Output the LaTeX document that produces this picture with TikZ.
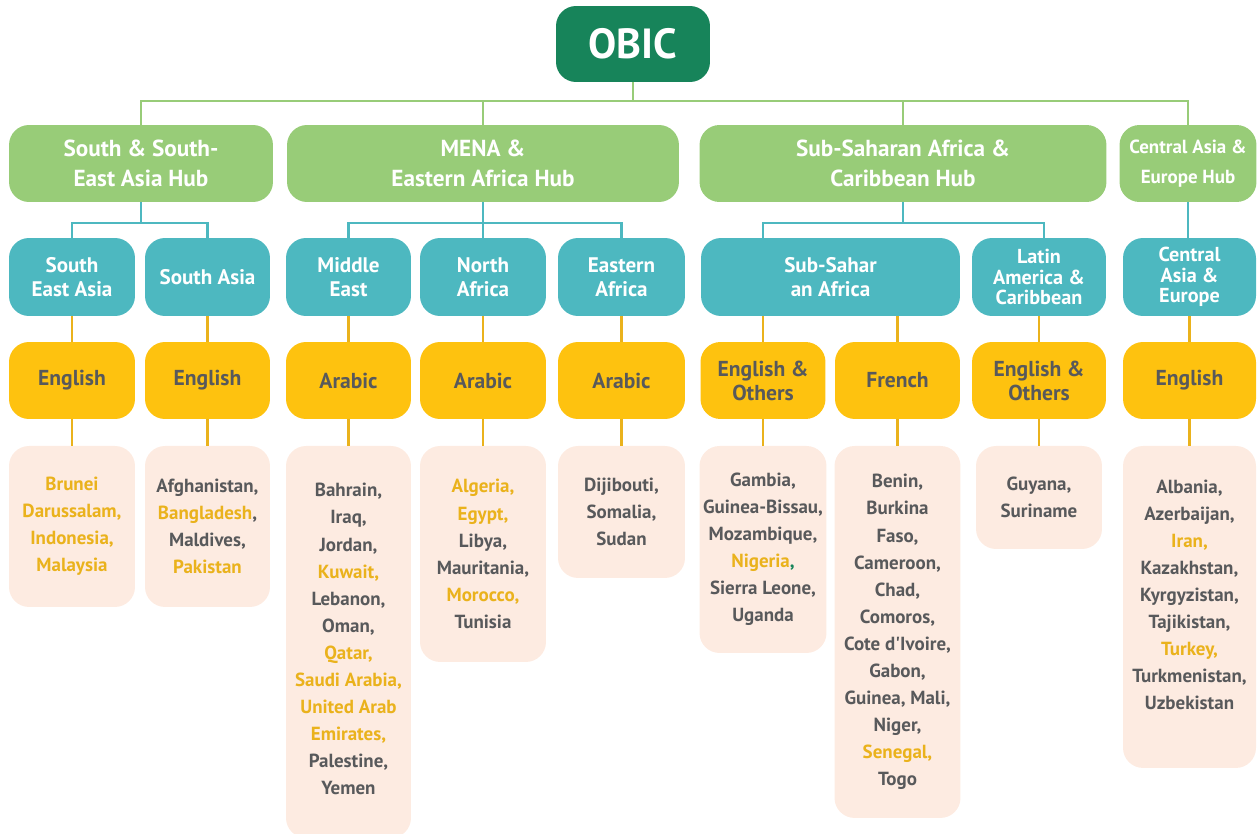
\documentclass[tikz,border=0pt]{standalone}
\usepackage{fontspec}
\setmainfont{PT Sans}
\usetikzlibrary{positioning}
\definecolor{obicgreen}{HTML}{17845A}
\definecolor{hubgreen}{HTML}{98CC78}
\definecolor{regteal}{HTML}{4DB8C0}
\definecolor{langyel}{HTML}{FEC20F}
\definecolor{listpeach}{HTML}{FDEBE1}
\definecolor{txtgrey}{HTML}{58595B}
\definecolor{hlyel}{HTML}{EAB21C}
\newcommand\hl[1]{\textcolor{hlyel}{#1}}
\tikzset{
  box/.style={rectangle, rounded corners=0.4cm, inner sep=0pt, outer sep=0pt, align=center, font=\bfseries},
  obicbox/.style={box, fill=obicgreen, text=white, minimum width=3.08cm, minimum height=1.52cm, font=\bfseries\fontsize{24}{28}\selectfont},
  hubbox/.style={box, fill=hubgreen, text=white, minimum height=1.54cm, font=\bfseries\fontsize{13.2}{17}\selectfont},
  regbox/.style={box, fill=regteal, text=white, minimum height=1.56cm, font=\bfseries\fontsize{12}{13.6}\selectfont},
  langbox/.style={box, fill=langyel, text=txtgrey, minimum height=1.54cm, font=\bfseries\fontsize{12.3}{13.6}\selectfont},
  listbox/.style={box, fill=listpeach, text=txtgrey, anchor=north, font=\bfseries\fontsize{10.8}{15.4}\selectfont},
  gline/.style={hubgreen, line width=1.6pt},
  tline/.style={regteal, line width=1.6pt},
  yline/.style={hlyel, line width=1.6pt}
}
\begin{document}
\begin{tikzpicture}[x=0.02cm, y=-0.02cm]
	\useasboundingbox (0,0) rectangle (1258,834);
	\node[obicbox] (obic) at (633,44) {OBIC};

	\node[hubbox, minimum width=5.28cm] (hub1) at (141,163.5) {South \& South-\\East Asia Hub};
	\node[hubbox, minimum width=7.84cm] (hub2) at (483,163.5) {MENA \&\\Eastern Africa Hub};
	\node[hubbox, minimum width=8.14cm] (hub3) at (903,163.5) {Sub-Saharan Africa \&\\Caribbean Hub};
	\node[hubbox, minimum width=2.74cm, font=\bfseries\fontsize{10.8}{17}\selectfont] (hub4) at (1188,163.5) {Central Asia \&\\Europe Hub};

	\node[regbox, minimum width=2.52cm] (reg1) at (72,277) {South\\East Asia};
	\node[regbox, minimum width=2.50cm] (reg2) at (207.5,277) {South Asia};
	\node[regbox, minimum width=2.50cm] (reg3) at (348.5,277) {Middle\\East};
	\node[regbox, minimum width=2.52cm] (reg4) at (483,277) {North\\Africa};
	\node[regbox, minimum width=2.54cm] (reg5) at (621.5,277) {Eastern\\Africa};
	\node[regbox, minimum width=5.18cm] (reg6) at (830.5,277) {Sub-Sahar\\an Africa};
	\node[regbox, minimum width=2.68cm, font=\bfseries\fontsize{11.5}{11.5}\selectfont] (reg7) at (1039,277) {Latin\\America \&\\Caribbean};
	\node[regbox, minimum width=2.66cm, font=\bfseries\fontsize{11.5}{11.5}\selectfont] (reg8) at (1189.5,277) {Central\\Asia \&\\Europe};

	\node[langbox, minimum width=2.52cm] (lang1) at (72,380.5) {English};
	\node[langbox, minimum width=2.50cm] (lang2) at (207.5,380.5) {English};
	\node[langbox, minimum width=2.50cm] (lang3) at (348.5,380.5) {Arabic};
	\node[langbox, minimum width=2.52cm] (lang4) at (483,380.5) {Arabic};
	\node[langbox, minimum width=2.54cm] (lang5) at (621.5,380.5) {Arabic};
	\node[langbox, minimum width=2.50cm] (lang6) at (763,380.5) {English \&\\Others};
	\node[langbox, minimum width=2.50cm] (lang7) at (897.5,380.5) {French};
	\node[langbox, minimum width=2.68cm] (lang8) at (1039,380.5) {English \&\\Others};
	\node[langbox, minimum width=2.66cm] (lang9) at (1189.5,380.5) {English};

	\node[listbox, minimum width=2.52cm, minimum height=3.22cm] (list1) at (72,446) {\hl{Brunei}\\\hl{Darussalam,}\\\hl{Indonesia,}\\\hl{Malaysia}};
	\node[listbox, minimum width=2.50cm, minimum height=3.22cm] (list2) at (207.5,446) {Afghanistan,\\\hl{Bangladesh},\\Maldives,\\\hl{Pakistan}};
	\node[listbox, minimum width=2.50cm, minimum height=7.84cm] (list3) at (348.5,446) {Bahrain,\\Iraq,\\Jordan,\\\hl{Kuwait,}\\Lebanon,\\Oman,\\\hl{Qatar,}\\\hl{Saudi Arabia,}\\\hl{United Arab}\\\hl{Emirates,}\\Palestine,\\Yemen\\[-12pt]};
	\node[listbox, minimum width=2.52cm, minimum height=4.32cm] (list4) at (483,446) {\hl{Algeria,}\\\hl{Egypt,}\\Libya,\\Mauritania,\\\hl{Morocco,}\\Tunisia};
	\node[listbox, minimum width=2.54cm, minimum height=2.64cm] (list5) at (621.5,446) {Dijibouti,\\Somalia,\\Sudan};
	\node[listbox, minimum width=2.54cm, minimum height=4.14cm] (list6) at (763,446) {Gambia,\\Guinea-Bissau,\\Mozambique,\\\hl{Nigeria}\textcolor{obicgreen}{,}\\Sierra Leone,\\Uganda};
	\node[listbox, minimum width=2.52cm, minimum height=7.44cm] (list7) at (897.5,446) {Benin,\\Burkina\\Faso,\\Cameroon,\\Chad,\\Comoros,\\Cote d\textquotesingle Ivoire,\\Gabon,\\Guinea, Mali,\\Niger,\\\hl{Senegal,}\\Togo};
	\node[listbox, minimum width=2.52cm, minimum height=2.06cm] (list8) at (1039,446) {Guyana,\\Suriname};
	\node[listbox, minimum width=2.66cm, minimum height=6.44cm] (list9) at (1189.5,446) {Albania,\\Azerbaijan,\\\hl{Iran,}\\Kazakhstan,\\Kyrgyzistan,\\Tajikistan,\\\hl{Turkey,}\\Turkmenistan,\\Uzbekistan\\[-1.7pt]};

	\coordinate (bus) at (633,101);
	\coordinate (bus1) at (141,223);
	\coordinate (bus2) at (483,223);
	\coordinate (bus3) at (903,223);
	\draw[gline] (obic) -- (bus);
	\draw[gline] (hub1.north) |- (bus) -| (hub4.north);
	\draw[gline] (hub2.north) -- (hub2.north |- bus);
	\draw[gline] (hub3.north) -- (hub3.north |- bus);

	\draw[tline] (hub1.south) -- (bus1);
	\draw[tline] (reg1.north) |- (bus1) -| (reg2.north);
	\draw[tline] (hub2.south) -- (reg4.north);
	\draw[tline] (reg3.north) |- (bus2) -| (reg5.north);
	\draw[tline] (hub3.south) -- (bus3);
	\draw[tline] (lang6.north |- reg6.north) |- (bus3) -| ([xshift=0.1cm]reg7.north);
	\draw[tline] (hub4.south) -- (hub4.south |- reg8.north);

	\foreach \i in {1,...,5} {
		\draw[yline] (reg\i) -- (lang\i);
	}
	\draw[yline] (lang6.north) -- (lang6.north |- reg6.south);
	\draw[yline] (lang7.north) -- (lang7.north |- reg6.south);
	\draw[yline] (reg7) -- (lang8);
	\draw[yline] (reg8) -- (lang9);
	\foreach \i in {1,...,9} {
		\draw[yline] (lang\i.south) -- (list\i.north);
	}
\end{tikzpicture}
\end{document}
